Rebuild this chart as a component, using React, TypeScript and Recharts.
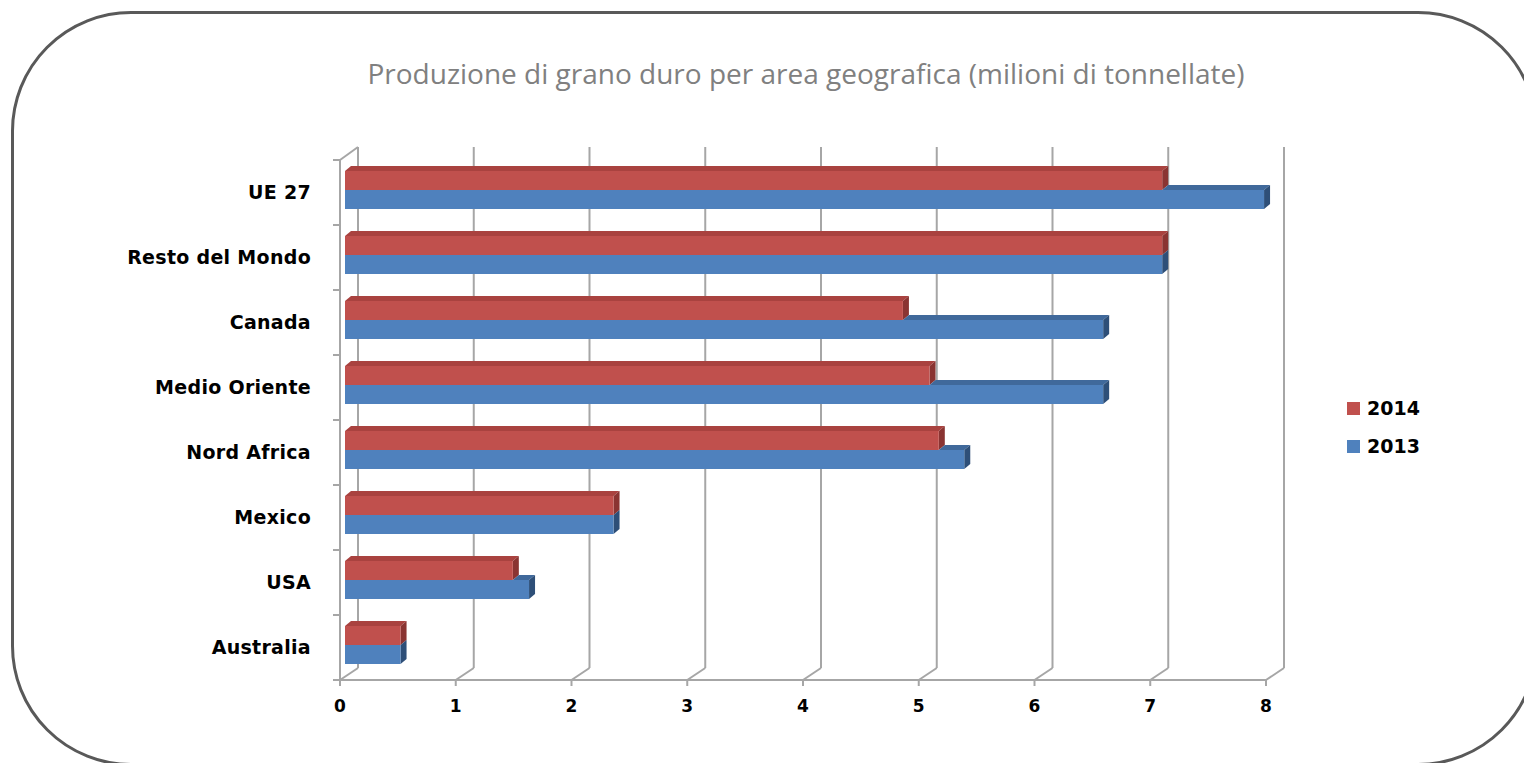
import React from 'react';
import { BarChart, Bar, XAxis, YAxis, CartesianGrid } from 'recharts';

const categories = ['UE 27', 'Resto del Mondo', 'Canada', 'Medio Oriente', 'Nord Africa', 'Mexico', 'USA', 'Australia'];
const values2014 = [7.06, 7.06, 4.82, 5.05, 5.13, 2.32, 1.45, 0.48];
const values2013 = [7.94, 7.06, 6.55, 6.55, 5.35, 2.32, 1.59, 0.48];
const xTicks = [0, 1, 2, 3, 4, 5, 6, 7, 8];

const series = [
  { key: 'y2014', name: '2014', fill: '#c0504d', top: '#a9423f', side: '#8a3432' },
  { key: 'y2013', name: '2013', fill: '#4f81bd', top: '#40699b', side: '#2e4f78' },
];

const data = categories.map((name, i) => ({ name, y2014: values2014[i], y2013: values2013[i] }));

const GRID = '#a6a6a6';
const LABEL_FONT = '"DejaVu Sans", Verdana, sans-serif';
const DX = 6; // depth of the 3d faces
const DY = 5;

// 3d-looking bar: front face + top face + right face
const makeShape = (s: any, clipToRed: boolean) => (props: any) => {
  const { x, y, width, height, payload } = props;
  if (!width || width <= 0) return <g />;
  const bx = x + 5;
  const by = y - 3;
  let topStart = bx;
  if (clipToRed) {
    const redW = width * (payload.y2014 / payload.y2013);
    topStart = bx + Math.min(redW, width);
  }
  const right = bx + width;
  return (
    <g>
      {topStart < right && (
        <polygon
          points={`${topStart},${by} ${topStart + DX},${by - DY} ${right + DX},${by - DY} ${right},${by}`}
          fill={s.top}
        />
      )}
      <polygon
        points={`${right},${by} ${right + DX},${by - DY} ${right + DX},${by + height - DY} ${right},${by + height}`}
        fill={s.side}
      />
      <rect x={bx} y={by} width={width} height={height} fill={s.fill} />
    </g>
  );
};

const gridLine = (p: any) => {
  const { x1, y1, y2, index } = p;
  return (
    <g key={p.key}>
      <line x1={x1 + 18} y1={y1 - 13} x2={x1 + 18} y2={y2 - 12} stroke={GRID} strokeWidth={2} />
      <line x1={x1} y1={y2} x2={x1 + 18} y2={y2 - 12} stroke={GRID} strokeWidth={2} />
      {index === 0 && <line x1={x1} y1={y1} x2={x1 + 18} y2={y1 - 13} stroke={GRID} strokeWidth={2} />}
    </g>
  );
};

// label plus tick marks on the band edges (Excel style)
const CategoryTick = (props: any) => {
  const { x, y, payload, index, visibleTicksCount } = props;
  const half = payload.offset || 0;
  return (
    <g>
      <line x1={x - 7} y1={y - half} x2={x} y2={y - half} stroke={GRID} strokeWidth={2} />
      {index === visibleTicksCount - 1 && (
        <line x1={x - 7} y1={y + half} x2={x} y2={y + half} stroke={GRID} strokeWidth={2} />
      )}
      <text
        x={x - 29}
        y={y}
        dy={6}
        textAnchor="end"
        fontFamily={LABEL_FONT}
        fontWeight="bold"
        fontSize={19}
        letterSpacing={0.3}
        fill="#000"
      >
        {payload.value}
      </text>
    </g>
  );
};

export default function App() {
  return (
    <div style={{ position: 'absolute', left: 0, top: 0, width: 1524, height: 763, overflow: 'hidden', background: '#fff' }}>
      <div
        style={{
          position: 'absolute', left: 11, top: 11, width: 1527, height: 755,
          border: '3px solid #595959', borderRadius: 120, boxSizing: 'border-box',
        }}
      />
      <div
        style={{
          position: 'absolute', left: 0, top: 56, width: 1612, textAlign: 'center',
          fontFamily: '"Open Sans", sans-serif', fontSize: 28, color: '#808080', lineHeight: '34px',
        }}
      >
        Produzione di grano duro per area geografica (milioni di tonnellate)
      </div>
      <div style={{ position: 'absolute', left: 0, top: 0 }}>
        <BarChart
          width={1524}
          height={763}
          data={data}
          layout="vertical"
          barSize={19}
          barGap={0}
          margin={{ top: 160, right: 258, bottom: 43, left: 0 }}
        >
          <CartesianGrid horizontal={false} vertical={gridLine} />
          <XAxis
            type="number"
            domain={[0, 8]}
            ticks={xTicks}
            interval={0}
            height={40}
            axisLine={{ stroke: GRID, strokeWidth: 2 }}
            tickLine={{ stroke: GRID, strokeWidth: 2 }}
            tickSize={6}
            tick={{ fontFamily: LABEL_FONT, fontWeight: 'bold', fontSize: 17, fill: '#000', dy: 12 }}
          />
          <YAxis
            type="category"
            dataKey="name"
            width={340}
            axisLine={{ stroke: GRID, strokeWidth: 2 }}
            tickLine={false}
            tickSize={0}
            tickMargin={0}
            interval={0}
            tick={<CategoryTick />}
          />
          {series.map((s, i) => (
            <Bar
              key={s.key}
              dataKey={s.key}
              name={s.name}
              fill={s.fill}
              isAnimationActive={false}
              shape={makeShape(s, i === 1)}
            />
          ))}
        </BarChart>
      </div>
      {series.map((s, i) => (
        <div
          key={s.key}
          style={{ position: 'absolute', left: 1347, top: 399 + i * 38, display: 'flex', alignItems: 'center' }}
        >
          <div style={{ width: 13, height: 13, background: s.fill, marginRight: 7 }} />
          <span style={{ fontFamily: LABEL_FONT, fontWeight: 'bold', fontSize: 19, color: '#000', lineHeight: '18px' }}>
            {s.name}
          </span>
        </div>
      ))}
    </div>
  );
}
